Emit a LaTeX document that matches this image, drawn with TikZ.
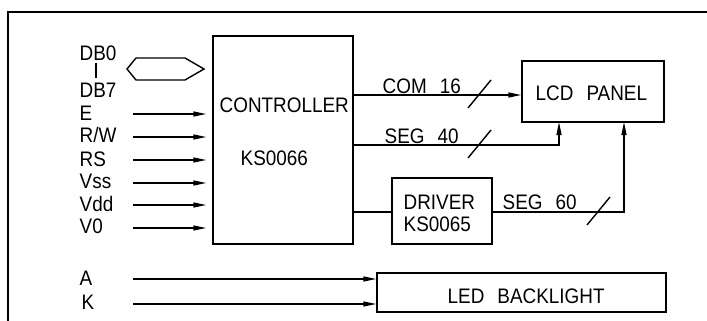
\documentclass[tikz,border=0pt]{standalone}
\usepackage{fontspec}
\setmainfont{Liberation Sans}[FakeStretch=0.9]
\usetikzlibrary{arrows.meta}
\newcommand{\gap}{\hspace{0.62em}}
\begin{document}
\begin{tikzpicture}[x=1pt,y=-1pt,line width=1.4pt,
  blk/.style={draw,inner sep=0pt},
  txt/.style={font=\fontsize{21}{21}\selectfont,inner sep=0pt,anchor=base west},
  arr/.style={-{Triangle[length=13pt,width=5pt]}}]
\useasboundingbox (0,0) rectangle (707,321);
\draw (8,321) -- (8,12) -- (707,12);
% boxes
\node[blk,minimum width=140pt,minimum height=208pt] (ctrl) at (283,140) {};
\node[blk,minimum width=142pt,minimum height=61pt] (lcd) at (593,91.5) {};
\node[blk,minimum width=100pt,minimum height=66pt] (drv) at (442,211) {};
\node[blk,minimum width=289pt,minimum height=39pt] (led) at (521.5,292.5) {};
% box texts
\node[txt] (tc1) at (219,112) {CONTROLLER};
\node[txt] (tc2) at (240,165) {KS0066};
\node[txt] (tl) at (535,100) {LCD\gap PANEL};
\node[txt] (td1) at (403,209) {DRIVER};
\node[txt] (td2) at (403,231) {KS0065};
\node[txt] (tled) at (447,303) {LED\gap BACKLIGHT};
% bus
\draw (127,69) -- (136,58) -- (185,58) -- (204,69) -- (185,80) -- (136,80) -- cycle;
\node[txt] (db0) at (79,60) {DB0};
\node[txt] (db7) at (79,98) {DB7};
\draw (96,63) -- (96,78);
% inputs
\coordinate (a0) at (133,0);
\node[txt] (E) at (79,120) {E};
\node[txt] (RW) at (79,142) {R/W};
\node[txt] (RS) at (79,166) {RS};
\node[txt] (Vss) at (79,188) {Vss};
\node[txt] (Vdd) at (79,211) {Vdd};
\node[txt] (V0) at (79,233) {V0};
\node[txt] (A) at (79,285) {A};
\node[txt] (K) at (81,309) {K};
\foreach \n/\y in {E/114,RW/137,RS/160,Vss/183,Vdd/205,V0/228}{
  \coordinate (p\n) at (133,\y);
  \draw[arr,shorten >=6pt] (p\n) -- (p\n -| ctrl.west);
}
\coordinate (pA) at (133,279);
\coordinate (pK) at (133,304);
\draw[arr] (pA) -- (pA -| led.west);
\draw[arr] (pK) -- (pK -| led.west);
% outputs
\coordinate (com) at (353,95);
\draw[arr] (com) -- (com -| lcd.west);
\node[txt] (tcom) at (382,93) {COM\gap 16};
\draw (468,108) -- (491,80);
\coordinate (s40) at (353,145);
\coordinate (in1) at (559,122);
\draw[arr] (s40) -| (in1);
\node[txt] (ts40) at (384,143) {SEG\gap 40};
\draw (468,158) -- (491,130);
\coordinate (cd) at (353,212);
\draw (cd) -- (cd -| drv.west);
\coordinate (in2) at (624,122);
\coordinate (d60) at (492,212);
\draw[arr] (d60) -| (in2);
\node[txt] (ts60) at (502,209) {SEG\gap 60};
\draw (587,225) -- (610,197);
\end{tikzpicture}
\end{document}
